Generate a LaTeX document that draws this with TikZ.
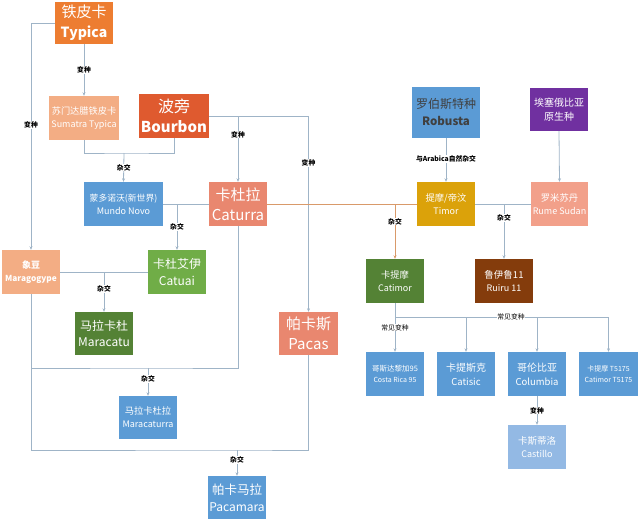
\documentclass[tikz,border=0pt]{standalone}
\usepackage{fontspec}
\setmainfont{Noto Sans CJK SC}
\usetikzlibrary{arrows.meta}
\definecolor{cTypica}{HTML}{ED7D31}
\definecolor{cLightOr}{HTML}{F3AD84}
\definecolor{cBourbon}{HTML}{DF5A2F}
\definecolor{cBlue}{HTML}{5B9BD5}
\definecolor{cSalmon}{HTML}{E9876F}
\definecolor{cGreen}{HTML}{70AD47}
\definecolor{cDkGreen}{HTML}{548235}
\definecolor{cPurple}{HTML}{7030A0}
\definecolor{cGold}{HTML}{DBA20A}
\definecolor{cRume}{HTML}{F2A08A}
\definecolor{cBrown}{HTML}{843C0C}
\definecolor{cLtBlue}{HTML}{93B9E4}
\definecolor{cLine}{HTML}{9FB4C7}
\definecolor{cOLine}{HTML}{D99A6A}
\definecolor{cDkText}{HTML}{404040}
\newcommand\myfs[2]{\fontsize{#1}{#2}\selectfont}
\begin{document}
\begin{tikzpicture}[x=1pt,y=-1pt,
  box/.style={rectangle,inner sep=0pt,align=center,text=white,minimum width=58pt,minimum height=44pt},
  lbl/.style={font=\bfseries\myfs{6.8}{8},fill=white,inner sep=0.6pt,text=black},
  conn/.style={draw=cLine,line width=0.8pt},
  arr/.style={conn,-{Stealth[length=3.5pt,width=3pt]}},
  oconn/.style={draw=cOLine,line width=0.9pt},
  oarr/.style={oconn,-{Stealth[length=3.5pt,width=3pt]}}]
\useasboundingbox (0,0) rectangle (640,523);
% nodes
\node[box,fill=cTypica,minimum height=42pt,font=\myfs{15}{20}] (typica) at (84,23) {{\myfs{15}{20}铁皮卡}\\{\bfseries\myfs{14}{20}Typica}};
\node[box,fill=cLightOr,minimum width=70pt,font=\myfs{9}{13}] (sumatra) at (84,118) {\myfs{9.2}{13}苏门达腊铁皮卡\\\myfs{9}{13}Sumatra Typica};
\node[box,fill=cBourbon,minimum width=70pt,font=\myfs{15}{20}] (bourbon) at (174,116) {{\myfs{16}{20}波旁}\\{\bfseries\myfs{15}{20}Bourbon}};
\node[box,fill=cBlue,minimum width=79pt,font=\myfs{9}{13}] (mundo) at (123.5,204) {\myfs{8.8}{13}蒙多诺沃(新世界)\\\myfs{9}{13}Mundo Novo};
\node[box,fill=cSalmon,font=\myfs{15}{20}] (caturra) at (238,204) {{\myfs{15}{20}卡杜拉}\\{\myfs{15}{20}Caturra}};
\node[box,fill=cLightOr,font=\myfs{9}{13}] (maragogype) at (31,272) {{\bfseries\myfs{9}{13}象豆}\\{\bfseries\myfs{8.3}{13}Maragogype}};
\node[box,fill=cGreen,font=\myfs{12}{16.5}] (catuai) at (177,272) {{\myfs{12}{16.5}卡杜艾伊}\\{\myfs{12}{16.5}Catuai}};
\node[box,fill=cDkGreen,minimum height=43pt,font=\myfs{12}{16.5}] (maracatu) at (104,333.5) {{\myfs{12}{16.5}马拉卡杜}\\{\myfs{12}{16.5}Maracatu}};
\node[box,fill=cSalmon,minimum width=59pt,minimum height=43pt,font=\myfs{15}{20}] (pacas) at (308.5,333.5) {{\myfs{15}{20}帕卡斯}\\{\myfs{15}{20}Pacas}};
\node[box,fill=cBlue,minimum height=43pt,font=\myfs{9}{13}] (maracaturra) at (148,417.5) {\myfs{9.3}{13}马拉卡杜拉\\\myfs{9}{13}Maracaturra};
\node[box,fill=cBlue,minimum height=43pt,font=\myfs{12}{17}] (pacamara) at (237,497.5) {{\myfs{12.5}{17}帕卡马拉}\\{\myfs{12}{17}Pacamara}};
\node[box,fill=cBlue,minimum width=68pt,minimum height=51pt,text=cDkText,font=\myfs{12}{17}] (robusta) at (446,112.5) {{\myfs{12}{17}罗伯斯特种}\\{\bfseries\myfs{11.5}{17}Robusta}};
\node[box,fill=cPurple,minimum height=43pt,font=\myfs{10}{14}] (ethiopia) at (559,109.5) {埃塞俄比亚\\原生种};
\node[box,fill=cGold,font=\myfs{9}{13}] (timor) at (446,204) {\myfs{9.3}{13}提摩/帝汶\\\myfs{9}{13}Timor};
\node[box,fill=cRume,minimum width=57pt,font=\myfs{9}{13}] (rume) at (559.5,204) {\myfs{9.3}{13}罗米苏丹\\\myfs{9}{13}Rume Sudan};
\node[box,fill=cDkGreen,font=\myfs{9}{13}] (catimor) at (395,281) {\myfs{9.3}{13}卡提摩\\\myfs{9}{13}Catimor};
\node[box,fill=cBrown,font=\myfs{9}{13}] (ruiru) at (504,281) {\myfs{9.5}{13}鲁伊鲁11\\\myfs{9}{13}Ruiru 11};
\node[box,fill=cBlue,font=\myfs{7}{10.5}] (costarica) at (395,374) {\myfs{7.5}{10.5}哥斯达黎加95\\\myfs{7}{10.5}Costa Rica 95};
\node[box,fill=cBlue,font=\myfs{10}{14}] (catisic) at (466,374) {\myfs{10}{14}卡提斯克\\\myfs{9.5}{14}Catisic};
\node[box,fill=cBlue,font=\myfs{10}{14}] (columbia) at (537,374) {\myfs{10}{14}哥伦比亚\\\myfs{9.5}{14}Columbia};
\node[box,fill=cBlue,minimum width=59pt,font=\myfs{7}{10.5}] (t5175) at (608.5,374) {\myfs{7}{10.5}卡提摩 T5175\\\myfs{7}{10.5}Catimor T5175};
\node[box,fill=cLtBlue,font=\myfs{9}{13.5}] (castillo) at (537,447) {\myfs{9.5}{13.5}卡斯蒂洛\\\myfs{9}{13.5}Castillo};
% junction coordinates
\coordinate (jsb) at (124,153);
\coordinate (jmr) at (148,368);
\coordinate (jpm) at (237,450);
\coordinate (jct) at (395,317);
% connectors
\draw[arr] (typica.south) -- node[lbl]{变种} (sumatra.north);
\draw[arr] (typica.west) -| (maragogype.north);
\path (typica.west -| maragogype.north) -- node[lbl,pos=0.45]{变种} (maragogype.north);
\draw[arr] (bourbon.east) -| (pacas.north);
\path (bourbon.east -| pacas.north) -- node[lbl,pos=0.24]{变种} (pacas.north);
\draw[arr] (caturra.north |- bourbon.east) -- node[lbl,pos=0.28]{变种} (caturra.north);
\draw[conn] (sumatra.south) |- (jsb) -| (bourbon.south);
\draw[arr] (jsb) -- node[lbl]{杂交} (mundo.north);
\draw[conn] (mundo.east) -- (caturra.west);
\draw[arr] (catuai.north |- mundo.east) -- node[lbl]{杂交} (catuai.north);
\draw[conn] (maragogype.east) -- (catuai.west);
\draw[arr] (maracatu.north |- maragogype.east) -- node[lbl,pos=0.43]{杂交} (maracatu.north);
\draw[conn] (maragogype.south) |- (jpm) -| (pacas.south);
\draw[arr] (jpm) -- node[lbl,pos=0.4]{杂交} (pacamara.north);
\draw[conn] (caturra.south) |- (jmr) -- (maragogype.south |- jmr);
\draw[arr] (jmr) -- node[lbl,pos=0.4]{杂交} (maracaturra.north);
\draw[oconn] (caturra.east) -- (timor.west);
\draw[oarr] (catimor.north |- timor.west) -- node[lbl,pos=0.32]{杂交} (catimor.north);
\draw[conn] (timor.east) -- (rume.west);
\draw[arr] (ruiru.north |- timor.east) -- node[lbl,pos=0.26]{杂交} (ruiru.north);
\draw[arr] (robusta.south) -- node[lbl,pos=0.48]{与Arabica自然杂交} (timor.north);
\draw[arr] (ethiopia.south) -- (rume.north);
\draw[conn] (catimor.south) -- (jct) -- (t5175.north |- jct);
\draw[arr] (jct) -- node[lbl,pos=0.3,font=\myfs{6.8}{8}]{常见变种} (costarica.north);
\draw[arr] (catisic.north |- jct) -- (catisic.north);
\draw[arr] (columbia.north |- jct) -- (columbia.north);
\draw[arr] (t5175.north |- jct) -- (t5175.north);
\node[lbl,font=\myfs{6.8}{8}] (lblcv) at (511,317) {常见变种};
\draw[arr] (columbia.south) -- node[lbl]{变种} (castillo.north);
\end{tikzpicture}
\end{document}
